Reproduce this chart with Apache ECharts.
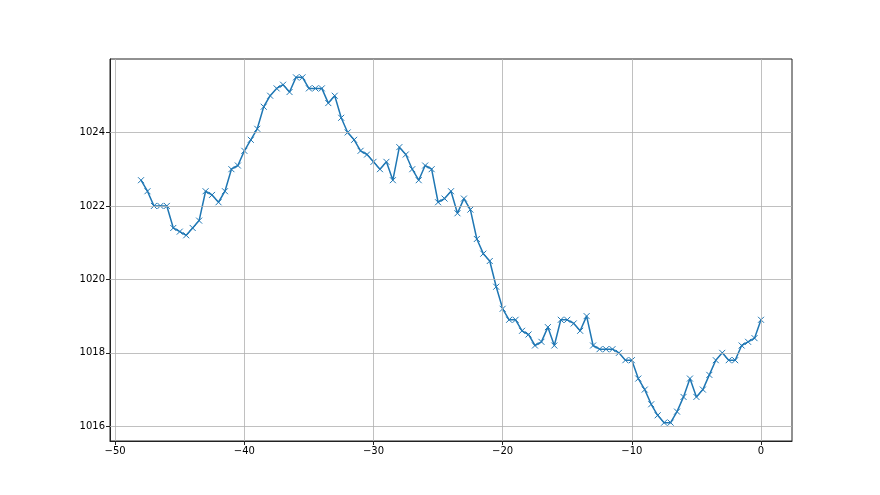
<!DOCTYPE html>
<html><head><meta charset="utf-8">
<script src="https://cdn.jsdelivr.net/npm/echarts@6/dist/echarts.min.js"></script>
<style>html,body{margin:0;padding:0;background:#fff}#c{width:880px;height:495px}</style>
</head><body><div id="c"></div>
<script>
const xStart = -48;
const xStep = 0.5;
const pressure = [
 1022.7,1022.4,1022.0,1022.0,1022.0,1021.4,1021.3,1021.2,1021.4,1021.6,
 1022.4,1022.3,1022.1,1022.4,1023.0,1023.1,1023.5,1023.8,1024.1,1024.7,
 1025.0,1025.2,1025.3,1025.1,1025.5,1025.5,1025.2,1025.2,1025.2,1024.8,
 1025.0,1024.4,1024.0,1023.8,1023.5,1023.4,1023.2,1023.0,1023.2,1022.7,
 1023.6,1023.4,1023.0,1022.7,1023.1,1023.0,1022.1,1022.2,1022.4,1021.8,
 1022.2,1021.9,1021.1,1020.7,1020.5,1019.8,1019.2,1018.9,1018.9,1018.6,
 1018.5,1018.2,1018.3,1018.7,1018.2,1018.9,1018.9,1018.8,1018.6,1019.0,
 1018.2,1018.1,1018.1,1018.1,1018.0,1017.8,1017.8,1017.3,1017.0,1016.6,
 1016.3,1016.1,1016.1,1016.4,1016.8,1017.3,1016.8,1017.0,1017.4,1017.8,
 1018.0,1017.8,1017.8,1018.2,1018.3,1018.4,1018.9
];
const xTicks = [-50,-40,-30,-20,-10,0];
const yTicks = [1016,1018,1020,1022,1024];

const data = pressure.map((v,i)=>[xStart + i*xStep, v]);
const fmt = v => String(v).replace('-', '\u2212');
const lab = {color:'#000', fontSize:10, fontFamily:'DejaVu Sans', margin:5};

const chart = echarts.init(document.getElementById('c'), null, {renderer:'canvas'});
chart.setOption({
  animation:false,
  grid:{left:110, right:88, top:59, bottom:54, show:true, borderColor:'#222', borderWidth:1, containLabel:false},
  xAxis:{type:'value', min:-50.4, max:2.4,
    axisLine:{show:true, onZero:false, lineStyle:{color:'#222', width:1}},
    axisTick:{show:true, customValues:xTicks, length:4, lineStyle:{color:'#222'}},
    axisLabel:Object.assign({customValues:xTicks, formatter:fmt}, lab),
    splitLine:{show:false}},
  yAxis:{type:'value', min:1015.6, max:1026.0,
    axisLine:{show:true, onZero:false, lineStyle:{color:'#222', width:1}},
    axisTick:{show:true, customValues:yTicks, length:4, lineStyle:{color:'#222'}},
    axisLabel:Object.assign({customValues:yTicks, formatter:fmt}, lab),
    splitLine:{show:false}},
  series:[{
    type:'line', data:data,
    symbol:'path://M0,0L10,10M10,0L0,10', symbolSize:6, showAllSymbol:true,
    lineStyle:{color:'#1f77b4', width:1.5},
    itemStyle:{color:'none', borderColor:'#1f77b4', borderWidth:1},
    markLine:{silent:true, symbol:'none', label:{show:false},
      lineStyle:{color:'#b0b0b0', width:0.8, type:'solid'},
      data: xTicks.map(v=>({xAxis:v})).concat(yTicks.map(v=>({yAxis:v})))},
    z:3
  }]
});
</script></body></html>
